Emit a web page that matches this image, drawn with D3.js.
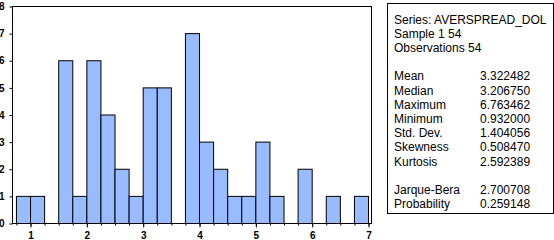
<!DOCTYPE html>
<html>
<head>
<meta charset="utf-8">
<script src="https://cdn.jsdelivr.net/npm/d3@7"></script>
<style>
  body { margin: 0; background: #fff; }
  svg { display: block; }
  .axis text { font-family: Arial, 'Liberation Sans', sans-serif; font-weight: bold; font-size: 10px; fill: #000; }
  .axis path, .axis line { stroke: #000; }
  .stats text { font-family: Arial, 'Liberation Sans', sans-serif; font-size: 12px; fill: #000; }
</style>
</head>
<body>
<script>
// histogram bins (lower edge, width 0.25) and counts
var binStarts = [0.75, 1.0, 1.25, 1.5, 1.75, 2.0, 2.25, 2.5, 2.75, 3.0, 3.25, 3.5,
                 3.75, 4.0, 4.25, 4.5, 4.75, 5.0, 5.25, 5.5, 5.75, 6.0, 6.25, 6.5, 6.75];
var counts    = [1, 1, 0, 6, 1, 6, 4, 2, 1, 5, 5, 0,
                 7, 3, 2, 1, 1, 3, 1, 0, 2, 0, 1, 0, 1];
var binWidth = 0.25;

var xTicks = [1, 2, 3, 4, 5, 6, 7];
var yTicks = [0, 1, 2, 3, 4, 5, 6, 7, 8];

var headerLines = ['Series: AVERSPREAD_DOL', 'Sample 1 54', 'Observations 54'];
var statNames  = ['Mean', 'Median', 'Maximum', 'Minimum', 'Std. Dev.', 'Skewness', 'Kurtosis'];
var statValues = ['3.322482', '3.206750', '6.763462', '0.932000', '1.404056', '0.508470', '2.592389'];
var testNames  = ['Jarque-Bera', 'Probability'];
var testValues = ['2.700708', '0.259148'];

var W = 554, H = 240;
var plot = {left: 12, top: 6, right: 371, bottom: 223};

var svg = d3.select('body').append('svg')
    .attr('width', W)
    .attr('height', H);

var xScale = d3.scaleLinear()
    .domain([0.68, 7.053])
    .range([plot.left, plot.right]);
var yScale = d3.scaleLinear()
    .domain([0, 8])
    .range([plot.bottom, plot.top]);

var bins = binStarts.map((b, i) => ({x0: b, x1: b + binWidth, n: counts[i]}))
    .filter(d => d.n > 0);

svg.selectAll('rect.bar')
  .data(bins).enter().append('rect')
    .attr('class', 'bar')
    .attr('x', d => xScale(d.x0) + 0.5)
    .attr('width', d => xScale(d.x1) - xScale(d.x0))
    .attr('y', d => yScale(d.n) + 0.5)
    .attr('height', d => yScale(0) - yScale(d.n))
    .attr('fill', '#99bbff')
    .attr('stroke', '#000')
    .attr('stroke-width', 1);

// plot frame
svg.append('rect')
    .attr('x', plot.left + 0.5)
    .attr('y', plot.top + 0.5)
    .attr('width', plot.right - plot.left)
    .attr('height', plot.bottom - plot.top)
    .attr('fill', 'none')
    .attr('stroke', '#000');

// minor x ticks every 0.25
svg.append('g')
    .attr('class', 'axis')
    .attr('transform', 'translate(0.5,' + (plot.bottom + 0.5) + ')')
    .call(d3.axisBottom(xScale)
          .tickValues(d3.range(0.75, 7.01, 0.25))
          .tickSize(2)
          .tickFormat(''))
    .call(g => g.select('.domain').remove());

svg.append('g')
    .attr('class', 'axis')
    .attr('transform', 'translate(0.5,' + (plot.bottom + 0.5) + ')')
    .call(d3.axisBottom(xScale)
          .tickValues(xTicks)
          .tickSize(4)
          .tickPadding(4)
          .tickFormat(d3.format('d')))
    .call(g => g.select('.domain').remove());

svg.append('g')
    .attr('class', 'axis')
    .attr('transform', 'translate(' + (plot.left + 0.5) + ',0.5)')
    .call(d3.axisLeft(yScale)
          .tickValues(yTicks)
          .tickSize(3)
          .tickPadding(5)
          .tickFormat(d3.format('d')))
    .call(g => g.select('.domain').remove());

// statistics box
var box = {left: 387, top: 3, right: 553, bottom: 213};
var stats = svg.append('g').attr('class', 'stats');
stats.append('rect')
    .attr('x', box.left + 0.5)
    .attr('y', box.top + 0.5)
    .attr('width', box.right - box.left)
    .attr('height', box.bottom - box.top)
    .attr('fill', 'none')
    .attr('stroke', '#000');

var lineH = 14.2, firstBase = 23.5, textX = 394, valX = 480;
var rowY = i => firstBase + i * lineH;

stats.selectAll('text.head')
  .data(headerLines).enter().append('text')
    .attr('class', 'head')
    .attr('x', textX)
    .attr('y', (d, i) => rowY(i))
    .text(d => d);

stats.selectAll('text.sname')
  .data(statNames).enter().append('text')
    .attr('x', textX)
    .attr('y', (d, i) => rowY(i + 4))
    .text(d => d);
stats.selectAll('text.sval')
  .data(statValues).enter().append('text')
    .attr('x', valX)
    .attr('y', (d, i) => rowY(i + 4))
    .text(d => d);

stats.selectAll('text.tname')
  .data(testNames).enter().append('text')
    .attr('x', textX)
    .attr('y', (d, i) => rowY(i + 12))
    .text(d => d);
stats.selectAll('text.tval')
  .data(testValues).enter().append('text')
    .attr('x', valX)
    .attr('y', (d, i) => rowY(i + 12))
    .text(d => d);
</script>
</body>
</html>
